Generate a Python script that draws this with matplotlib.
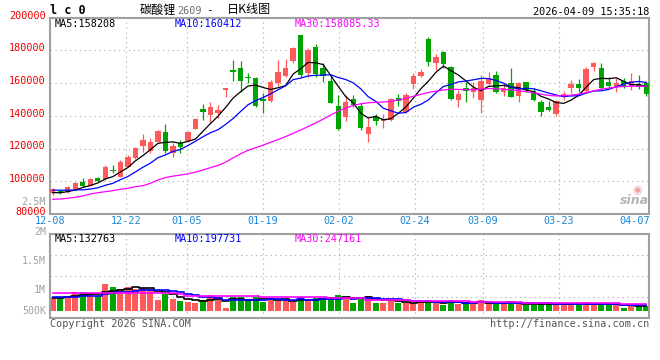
import numpy as np
import pandas as pd
import matplotlib
matplotlib.use('Agg')
import matplotlib.pyplot as plt

plt.rcParams['font.family'] = ['DejaVu Sans Mono', 'Noto Sans CJK SC']

# ---------------- data ----------------
tick_idx = [0, 10, 18, 28, 38, 48, 57, 67, 77]
tick_labels = ['12-08', '12-22', '01-05', '01-19', '02-02', '02-24', '03-09', '03-23', '04-07']
grid_idx = [10, 18, 28, 38, 48, 57, 67]

opens = [92970, 94200, 93590, 95240, 99700, 97250, 102150, 101360, 106870, 102770,
         108900, 114030, 121550, 118490, 124190, 129940, 117090, 123210, 124800, 132140,
         144200, 140530, 141930, 156000, 168070, 169110, 163970, 162990, 150130, 149280,
         159930, 164390, 173760, 189490, 166410, 182330, 169470, 161520, 146030, 139490,
         150130, 146030, 128900, 139490, 136850, 137470, 150740, 142550, 159310, 164390,
         187040, 172530, 179080, 170090, 149710, 157050, 154790, 149710, 159500, 165010,
         154790, 159930, 152340, 160540, 155400, 148480, 145240, 141140, 151360, 156870,
         159500, 155400, 169720, 169110, 160910, 158460, 161330, 158270, 159310, 159930]
highs = [95670, 94800, 97070, 99500, 102150, 101800, 102770, 109750, 109930, 112990,
         116050, 121130, 128700, 126270, 131350, 135020, 123210, 125230, 130920, 138500,
         147260, 148480, 146650, 156250, 174190, 173570, 166410, 163970, 153810, 161950,
         174190, 174620, 182330, 189490, 181350, 183790, 172170, 165010, 152770, 152770,
         152770, 147690, 138500, 140950, 141140, 151110, 153380, 153810, 166050, 168500,
         188060, 177670, 179690, 170700, 155830, 160910, 160540, 165010, 167030, 167450,
         159930, 169110, 160910, 160910, 156870, 149710, 149280, 149710, 155400, 161950,
         162560, 170090, 173150, 172530, 163600, 162990, 163350, 166050, 165010, 160540]
lows = [91560, 92180, 92970, 94800, 96650, 96900, 99700, 100750, 105210, 102400,
        108520, 113600, 118060, 117090, 123820, 117460, 115000, 117460, 124190, 131750,
        137470, 136420, 138500, 151730, 161330, 154780, 159930, 145610, 141930, 148670,
        158270, 163970, 172170, 163970, 163970, 163970, 160910, 147690, 131350, 137040,
        145240, 131350, 124190, 134400, 132760, 136850, 146030, 141930, 156440, 163970,
        170510, 168070, 169110, 149710, 145240, 148670, 151110, 141930, 158890, 154170,
        152150, 151360, 148670, 154790, 149090, 139910, 142970, 139910, 149710, 154170,
        154790, 154790, 167640, 156440, 157850, 154790, 157240, 155830, 156250, 152150]
closes = [95240, 92600, 96650, 99100, 97250, 101360, 100320, 108900, 106070, 111580,
          115000, 120510, 125230, 124190, 130730, 118490, 121550, 121130, 129940, 138080,
          142180, 145240, 143590, 156250, 167030, 161520, 162990, 146220, 149090, 160720,
          167030, 169470, 181710, 165010, 180310, 165620, 164390, 148050, 131960, 148670,
          146650, 132760, 133370, 137040, 138080, 150130, 149090, 152770, 164390, 166660,
          173150, 176210, 171740, 150320, 153380, 155210, 156870, 161330, 163350, 154790,
          156870, 151730, 159930, 155830, 149710, 142550, 143590, 149090, 153380, 159500,
          157240, 168680, 172170, 157240, 158460, 159930, 157850, 161520, 157850, 153380]
# closes of the 9 sessions before 12-08 (estimated from where MA5/MA10 start)
pre_close = [92600, 96600, 97500, 96800, 96500, 92750, 93550, 93950, 89550]
# MA30 line as drawn
ma30 = [88940, 89120, 89550, 90160, 90950, 92180, 92970, 93590, 94200, 95050,
        95670, 96650, 97250, 98730, 100750, 102200, 103100, 103800, 104500, 105600,
        106900, 108300, 109700, 111600, 114300, 116800, 118900, 120500, 122100, 123800,
        125500, 127300, 129300, 131300, 133500, 135700, 138000, 140500, 142800, 144800,
        146300, 147400, 148000, 148300, 148500, 148800, 149700, 150700, 152000, 153200,
        154300, 155100, 155800, 156300, 156200, 156000, 156000, 156300, 156700, 156600,
        156300, 155900, 155400, 154800, 154100, 153300, 152500, 152200, 152300, 152700,
        153300, 154300, 155300, 156300, 157000, 157600, 158000, 158200, 158100, 158085]

volumes = [458, 426, 480, 598, 598, 544, 490, 864, 768, 704,
           768, 704, 736, 704, 352, 544, 384, 320, 288, 256,
           352, 512, 438, 106, 458, 438, 352, 458, 288, 384,
           330, 384, 278, 438, 330, 406, 406, 458, 512, 490,
           266, 426, 490, 266, 266, 330, 266, 246, 246, 298,
           352, 266, 192, 352, 214, 246, 214, 352, 246, 246,
           246, 278, 234, 192, 192, 234, 234, 192, 234, 192,
           192, 278, 192, 246, 192, 192, 86, 202, 182, 160]   # thousands
pre_vol = [500, 480, 510, 470, 490, 430, 400, 420, 422]
vol_ma30 = [590, 590, 590, 590, 590, 590, 590, 590, 590, 590,
            590, 590, 590, 590, 590, 590, 590, 540, 486, 486,
            486, 486, 486, 486, 486, 486, 486, 486, 438, 438,
            438, 438, 438, 438, 438, 438, 438, 406, 406, 406,
            406, 406, 352, 352, 352, 352, 352, 352, 320, 320,
            320, 320, 320, 320, 320, 320, 278, 278, 278, 278,
            278, 278, 278, 246, 246, 246, 246, 246, 246, 246,
            246, 246, 246, 246, 246, 246, 210, 210, 210, 210]

# ---------------- derived ----------------
full_close = pd.Series(pre_close + closes)
ma5 = full_close.rolling(5).mean().values[len(pre_close):]
ma10 = full_close.rolling(10).mean().values[len(pre_close):]
vol = np.array(volumes) * 1000
full_vol = pd.Series(pre_vol + volumes) * 1000
vma5 = full_vol.rolling(5).mean().values[len(pre_vol):]
vma10 = full_vol.rolling(10).mean().values[len(pre_vol):]
vma30 = np.array(vol_ma30) * 1000

W, H = 660, 360
UP = '#ff5a5a'
DOWN = '#00a400'
EDGE = '#a0a0a0'
GRID = '#b4b4b4'
GRAY = '#a0a0a0'

n = len(closes)
x = np.arange(n)
step = (646.3 - 52.7) / (n - 1)


def to_data(xp):
    return (xp - 52.7) / step


def rect(x0, y0, x1, y1):
    return [x0 / W, 1 - y1 / H, (x1 - x0) / W, (y1 - y0) / H]


grid_x = [to_data(50 + i * 600 / (n - 1)) for i in grid_idx]
tick_x = [to_data(50 + i * 600 / (n - 1)) for i in tick_idx]

fig = plt.figure(figsize=(6.6, 3.6), dpi=100)
ax1 = fig.add_axes(rect(50, 17.8, 649.3, 213.9))
ax2 = fig.add_axes(rect(50, 234, 649.3, 317.7))

colors = [UP if c >= o else DOWN for o, c in zip(opens, closes)]
o = np.array(opens)
c = np.array(closes)
body_low = np.minimum(o, c)
body_h = np.maximum(np.abs(c - o), 900)

# ---- price panel ----
for v in range(100000, 181000, 20000):
    ax1.axhline(v, color=GRID, lw=0.8, ls=(0, (1.2, 3.2)), zorder=0)
for gx in grid_x:
    ax1.axvline(gx, color=GRID, lw=0.8, ls=(0, (1.2, 3.2)), zorder=0)

ax1.vlines(x, lows, highs, colors=colors, linewidth=0.9, zorder=2)
ax1.bar(x, body_h, bottom=body_low, width=0.72, color=colors, linewidth=0, zorder=3)
ax1.plot(x, ma5, color='black', lw=0.9, zorder=4)
ax1.plot(x, ma10, color='#0000ff', lw=0.9, zorder=4)
ax1.plot(x, ma30, color='#ff00ff', lw=0.9, zorder=4)

ax1.set_xlim(to_data(50), to_data(649.3))
ax1.set_ylim(80000, 200000)
ax1.set_xticks([])
ax1.set_yticks([])

ylab_x = -4 / 599.3
for v in range(80000, 200001, 20000):
    ax1.text(ylab_x, v + 1300, str(v), transform=ax1.get_yaxis_transform(),
             ha='right', va='center', color='#ee0000', fontsize=7.3, clip_on=False)
for tx, tl in zip(tick_x, tick_labels):
    ax1.text(tx, -7.3 / 196.1, tl, transform=ax1.get_xaxis_transform(),
             ha='center', va='center', color='#1a86d6', fontsize=7.3, clip_on=False)

# ---- volume panel ----
vlo, vhi = -6.7 * 32000, 77 * 32000
for f in (0.25, 0.5, 0.75):
    ax2.axhline(vlo + f * (vhi - vlo), color=GRID, lw=0.8, ls=(0, (1.2, 3.2)), zorder=0)
for gx in grid_x:
    ax2.axvline(gx, color=GRID, lw=0.8, ls=(0, (1.2, 3.2)), zorder=0)

ax2.bar(x, vol, width=0.8, color=colors, linewidth=0, zorder=2)
ax2.plot(x, vma5, color='black', lw=1.2, drawstyle='steps-mid', zorder=3)
ax2.plot(x, vma10, color='#0000ff', lw=1.2, drawstyle='steps-mid', zorder=3)
ax2.plot(x, vma30, color='#ff00ff', lw=1.2, drawstyle='steps-mid', zorder=3)
ax2.set_xlim(to_data(50), to_data(649.3))
ax2.set_ylim(vlo, vhi)
ax2.set_xticks([])
ax2.set_yticks([])

for lab, yp in [('2M', 231.5), ('1.5M', 260.7), ('1M', 290), ('500K', 310.7)]:
    ax2.text(ylab_x, (317.7 - yp) / 83.7, lab, transform=ax2.transAxes,
             ha='right', va='center', color=GRAY, fontsize=7.1, clip_on=False)

for ax in (ax1, ax2):
    for s in ax.spines.values():
        s.set_color(EDGE)
        s.set_linewidth(1.5)

# ---- texts ----
def ftext(xp, yp, s, **kw):
    kw.setdefault('va', 'center')
    kw.setdefault('fontsize', 7.3)
    fig.text(xp / W, 1 - yp / H, s, **kw)

ftext(50, 10, 'l c 0', fontweight='bold', fontsize=8.5)
ftext(140, 10, '碳酸锂', family='Noto Sans CJK SC', fontsize=8.7, fontweight='medium')
ftext(177, 10.5, '2609', color='#707070')
ftext(206, 10, '-', fontsize=8)
ftext(227, 10, '日K线图', family='Noto Sans CJK SC', fontsize=8.7, fontweight='medium')
ftext(649, 12, '2026-04-09 15:35:18', ha='right')

ftext(54.5, 24, 'MA5:158208', color='black')
ftext(174.5, 24, 'MA10:160412', color='#0000ff')
ftext(295, 24, 'MA30:158085.33', color='#ff00ff')
ftext(54.5, 239, 'MA5:132763', color='black')
ftext(174.5, 239, 'MA10:197731', color='#0000ff')
ftext(295, 239, 'MA30:247161', color='#ff00ff')

ftext(46, 201.7, '2.5M', ha='right', color=GRAY)
ftext(50, 324, 'Copyright 2026 SINA.COM', color='#555555')
ftext(649, 324, 'http://finance.sina.com.cn', ha='right', color='#555555')

ftext(637, 190, '\u25c9', ha='center', color='#f2a4a4', family='DejaVu Sans', fontsize=8)
ftext(634, 200.5, 'sina', ha='center', color='#b4b4b4', family='DejaVu Sans',
      fontstyle='italic', fontweight='bold', fontsize=9)

fig.savefig('out.png', dpi=100)
